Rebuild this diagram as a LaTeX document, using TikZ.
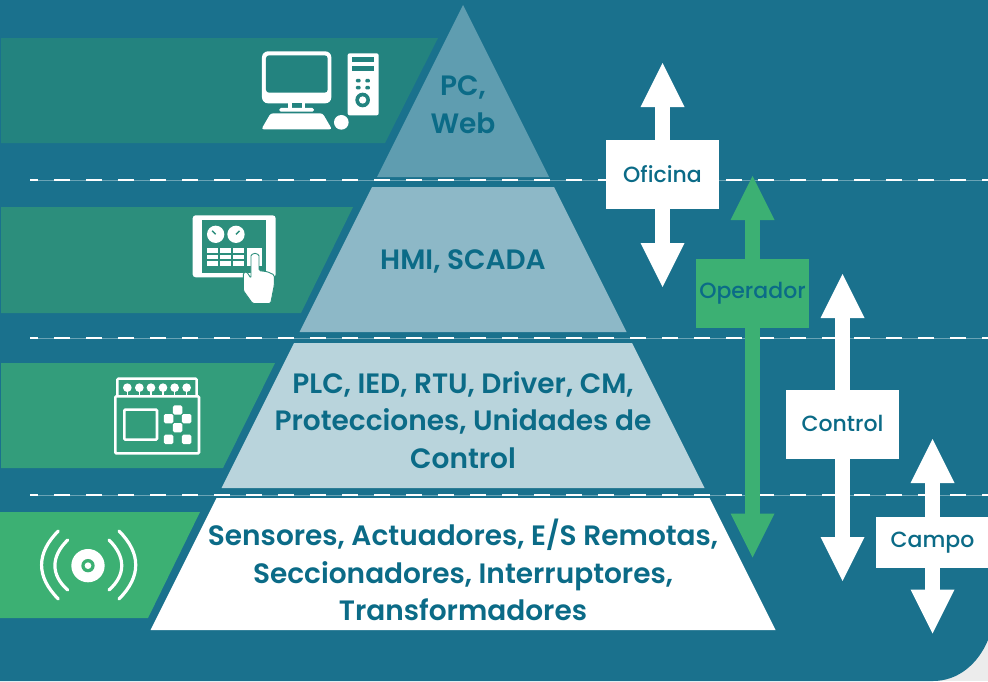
\documentclass[tikz,border=0pt]{standalone}
\usepackage{fontspec}
\setmainfont{Poppins Medium}
\newfontfamily\tierfont{Poppins SemiBold}
\usetikzlibrary{positioning, arrows.meta}
\definecolor{bgblue}{HTML}{1A718D}
\definecolor{bggrey}{HTML}{ECECEC}
\definecolor{textblue}{HTML}{0B6B87}
\definecolor{tierone}{HTML}{5F9DB0}
\definecolor{tiertwo}{HTML}{8DB8C7}
\definecolor{tierthree}{HTML}{B9D4DC}
\definecolor{bandone}{HTML}{23837F}
\definecolor{bandtwo}{HTML}{2C8E7C}
\definecolor{bandthree}{HTML}{339D7B}
\definecolor{bandfour}{HTML}{3CB073}

\begin{document}
\begin{tikzpicture}[
    x=1pt, y=-1pt,
    on grid,
    tierlabel/.style={text=textblue, align=center, font=\tierfont\fontsize{28}{37.7}\selectfont, inner sep=0pt},
    levelbox/.style={fill=white, text=textblue, font=\fontsize{22}{26}\selectfont, inner sep=0pt},
    levelarrow/.style={white, line width=15.4pt, -{Triangle[length=44pt,width=44pt,line width=0pt]}},
    baseline rule/.style={draw=white!35!bgblue, line width=.8pt},
    baseline dash/.style={draw=white, line width=1.5pt, dash pattern=on 16pt off 16pt, dash phase=8pt},
    icon/.style={x=.3333pt, y=-.3333pt}
]
    % Background
    \useasboundingbox (0,0) rectangle (988,681);
    \fill[bggrey] (0,0) rectangle (988,681);
    \fill[bgblue] (0,0) -- (988,0) -- (988,640) .. controls (978,664) and (958,681) .. (933,681) -- (0,681) -- cycle;

    % Bands
    \fill[bandone] (1,38) -- (438,38) -- (385,143) -- (1,143) -- cycle;
    \fill[bandtwo] (1,207) -- (353,207) -- (301,313) -- (1,313) -- cycle;
    \fill[bandthree] (1,363) -- (275,363) -- (223,468) -- (1,468) -- cycle;
    \fill[bandfour] (0,512) -- (200,512) -- (148,618) -- (0,618) -- cycle;

    % Level lines
    \foreach \y in {180,338,495} {
        \draw[baseline rule] (30,\y) -- (988,\y);
        \draw[baseline dash] (30,\y) -- (988,\y);
    }

    % Pyramid
    \fill[tierone] (463,5) -- (549,177) -- (377,177) -- cycle;
    \fill[tiertwo] (372,187) -- (554,187) -- (626.5,332) -- (299.5,332) -- cycle;
    \fill[tierthree] (294,343) -- (632,343) -- (704.5,488) -- (221.5,488) -- cycle;
    \fill[white] (216.5,498) -- (709.5,498) -- (775.5,630) -- (150.5,630) -- cycle;

    % Tier labels
    \node[tierlabel] (pcweb) at (463,105) {PC,\\Web};
    \node[tierlabel] (hmi) at (463,261) {HMI, SCADA};
    \node[tierlabel] (plc) at (463,420) {PLC, IED, RTU, Driver, CM,\\Protecciones, Unidades de\\Control};
    \node[tierlabel] (sensores) at (463,570) {Sensores, Actuadores, E/S Remotas,\\Seccionadores, Interruptores,\\Transformadores};

    % Level boxes
    \node[levelbox, minimum width=113pt, minimum height=69pt] (oficina) at (662.5,174.5) {\raisebox{-1pt}{Oficina}};
    \node[levelbox, fill=bandfour, minimum width=113pt, minimum height=69pt] (operador) at (752.5,293.5) {Operador};
    \node[levelbox, minimum width=113pt, minimum height=69pt] (control) at (842.5,424.5) {\raisebox{3pt}{Control}};
    \node[levelbox, minimum width=113pt, minimum height=51pt] (campo) at (932.5,542.5) {Campo};

    % Arrow ends
    \coordinate[above=111.5pt of oficina.center] (oficinaup);
    \coordinate[below=112.5pt of oficina.center] (oficinadown);
    \coordinate[above=117.5pt of operador.center] (operadorup);
    \coordinate[below=264pt of operador.center] (operadordown);
    \coordinate[above=150.5pt of control.center] (controlup);
    \coordinate[below=156.5pt of control.center] (controldown);
    \coordinate[above=103.5pt of campo.center] (campoup);
    \coordinate[below=91pt of campo.center] (campodown);

    % Arrows
    \draw[levelarrow] (oficina.north) -- (oficinaup);
    \draw[levelarrow] (oficina.south) -- (oficinadown);
    \draw[levelarrow, bandfour] (operador.north) -- (operadorup);
    \draw[levelarrow, bandfour] (operador.south) -- (operadordown);
    \draw[levelarrow] (control.north) -- (controlup);
    \draw[levelarrow] (control.south) -- (controldown);
    \draw[levelarrow] (campo.north) -- (campoup);
    \draw[levelarrow] (campo.south) -- (campodown);

    % PC icon
    \begin{scope}[icon, xshift=180pt, yshift=-30pt]
        \fill[white, rounded corners=6pt] (246,64) rectangle (454,220);
        \fill[bandone, rounded corners=3pt] (258,76) rectangle (443,188);
        \fill[white] (325,220) rectangle (375,236);
        \fill[bandone] (335,220) rectangle (365,233);
        \fill[white, rounded corners=1.5pt] (298,234) rectangle (402,245);
        \fill[white, rounded corners=2.5pt] (272,250) -- (428,250) -- (456,298) -- (244,298) -- cycle;
        \fill[white] (484,277) circle[radius=22];
        \fill[white, rounded corners=2pt] (503,70) rectangle (596,256);
        \fill[bandone] (516,81) rectangle (582,97);
        \fill[bandone] (516,108) rectangle (582,124);
        \foreach \u in {535,563} \foreach \v in {152,173}
            \fill[bandone, rounded corners=1pt] (\u-7,\v-5) rectangle (\u+7,\v+5);
        \fill[bandone] (548,210) circle[radius=22];
        \fill[white] (548,210) circle[radius=11];
    \end{scope}

    % HMI icon
    \begin{scope}[icon, xshift=180pt, yshift=-30pt]
        \fill[white, rounded corners=3pt] (38,556) rectangle (287,742);
        \fill[bandtwo] (66,570) rectangle (259,728);
        \foreach \u/\a in {107/45,168/135} {
            \fill[white] (\u,613) circle[radius=26];
            \draw[bandtwo, line width=1.5pt] (\u,613) -- ++(\a:-15);
        }
        \foreach \u in {81,120,158} \foreach \v in {654,674,694}
            \fill[white] (\u,\v) rectangle (\u+33,\v+14);
        \fill[white] (200,654) rectangle (247,708);
        \filldraw[white, draw=bandtwo, line width=.9pt, rounded corners=1.5pt] (190,728) -- (190,782) -- (218,821) -- (272,821) -- (283,765) -- (283,735) -- (262,725) -- (237,722) -- (237,682) arc[start angle=0, end angle=-180, radius=12] -- (213,745) -- (200,725) -- cycle;
    \end{scope}

    % PLC icon
    \begin{scope}[icon, yshift=-360pt]
        \draw[white, line width=2.4pt, rounded corners=1pt] (352,105) -- (352,56) -- (590,56) -- (590,105);
        \foreach \u in {382,418,453,489,524,560} {
            \fill[white] (\u,83) circle[radius=13];
            \draw[white, line width=1.5pt] (\u,83) -- (\u,105);
        }
        \draw[white, line width=2.6pt, rounded corners=1pt] (346,109) rectangle (597,280);
        \draw[white, line width=2.6pt, rounded corners=1pt] (373,149) rectangle (471,239);
        \foreach \u/\v in {533/150,506/176,560/176,533/203,506/238,560/238}
            \fill[white, rounded corners=1.5pt] (\u-14,\v-14) rectangle (\u+14,\v+14);
    \end{scope}

    % Sensor icon
    \begin{scope}[icon, yshift=-360pt]
        \fill[white] (264,617) circle[radius=50];
        \fill[bandfour] (264,617) circle[radius=20];
        \fill[white] (264,617) circle[radius=10];
        \draw[white, line width=3.2pt, line cap=round] (203,540) .. controls (152,590) and (152,645) .. (203,690);
        \draw[white, line width=3.2pt, line cap=round] (175,513) .. controls (108,580) and (108,650) .. (175,717);
        \draw[white, line width=3.2pt, line cap=round] (327,540) .. controls (378,590) and (378,645) .. (327,690);
        \draw[white, line width=3.2pt, line cap=round] (357,513) .. controls (424,580) and (424,650) .. (357,717);
    \end{scope}
\end{tikzpicture}
\end{document}
